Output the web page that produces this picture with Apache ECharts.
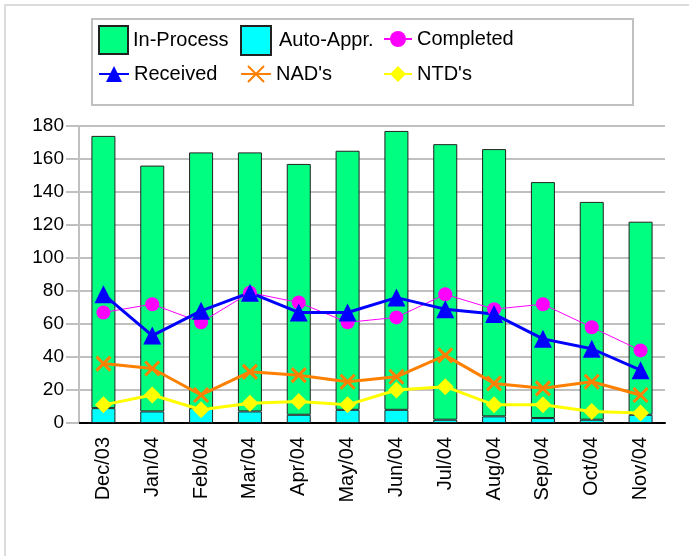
<!DOCTYPE html>
<html>
<head>
<meta charset="utf-8">
<script src="https://cdn.jsdelivr.net/npm/echarts@6/dist/echarts.min.js"></script>
<style>
  html, body { margin: 0; padding: 0; background: #fff; }
  #main { width: 689px; height: 556px; }
</style>
</head>
<body>
<div id="main"></div>
<script>
var months = ['Dec/03', 'Jan/04', 'Feb/04', 'Mar/04', 'Apr/04', 'May/04',
              'Jun/04', 'Jul/04', 'Aug/04', 'Sep/04', 'Oct/04', 'Nov/04'];
var autoAppr  = [9, 7, 9, 7, 5, 8, 8, 2, 4, 3, 2, 5];
var inProcess = [165, 149, 155, 157, 152, 157, 169, 167, 162, 143, 132, 117];
var completed = [67, 72, 61, 79, 73, 61, 64, 78, 69, 72, 58, 44];
var received  = [78, 53, 68, 79, 67, 67, 76, 69, 66, 51, 45, 32];
var nads      = [36, 33, 17, 31, 29, 25, 28, 41, 24, 21, 25, 17];
var ntds      = [11, 17, 8, 12, 13, 11, 20, 22, 11, 11, 7, 6];

var font = 'Liberation Sans, Arial, sans-serif';
var crossPath = 'path://M0,0 L10,10 M10,0 L0,10';

// one legend per item so each can sit where the original puts it
function oneLegend(name, left, top, w, h, icon, extraText) {
    var leg = {
        data: [icon ? { name: name, icon: icon } : name],
        left: left,
        top: top,
        itemWidth: w,
        itemHeight: h,
        itemGap: 0,
        padding: 0,
        selectedMode: false,
        textStyle: Object.assign({ fontFamily: font, fontSize: 20, color: '#000' }, extraText || {})
    };
    return leg;
}

var myChart = echarts.init(document.getElementById('main'));
var option = {
    animation: false,
    backgroundColor: '#fff',
    graphic: [
        {
            type: 'rect',
            shape: { x: 5, y: 5, width: 720, height: 620 },
            style: { fill: 'none', stroke: '#dcdcdc', lineWidth: 2 }
        },
        {
            type: 'rect',
            shape: { x: 92, y: 19, width: 541, height: 86 },
            style: { fill: 'none', stroke: '#c0c0c0', lineWidth: 2 }
        }
    ],
    legend: [
        oneLegend('In-Process', 98, 25, 29, 28, 'rect'),
        oneLegend('Auto-Appr.', 240, 25, 30, 29, 'rect', { padding: [8, 0, 0, 3] }),
        oneLegend('Completed', 383, 29, 28, 20),
        oneLegend('Received', 98, 64, 30, 20),
        oneLegend("NAD's", 240, 64, 30, 20),
        oneLegend("NTD's", 383, 64, 28, 20)
    ],
    grid: {
        left: 79,
        right: 24,
        top: 126,
        bottom: 133
    },
    xAxis: {
        type: 'category',
        data: months,
        boundaryGap: true,
        axisLine: { lineStyle: { color: '#000', width: 2 } },
        axisTick: { length: 14, lineStyle: { color: '#404040', width: 2 } },
        axisLabel: {
            rotate: 90,
            margin: 14,
            fontFamily: font,
            fontSize: 20,
            color: '#000'
        },
        splitLine: { show: false }
    },
    yAxis: {
        type: 'value',
        min: 0,
        max: 180,
        interval: 20,
        axisLine: { show: true, lineStyle: { color: '#c0c0c0', width: 2 } },
        axisTick: { show: true, length: 13, lineStyle: { color: '#c0c0c0', width: 2 } },
        axisLabel: {
            margin: 15,
            fontFamily: font,
            fontSize: 19,
            color: '#000'
        },
        splitLine: { lineStyle: { color: '#c0c0c0', width: 2 } }
    },
    series: [
        {
            name: 'Auto-Appr.',
            type: 'bar',
            stack: 'total',
            barWidth: 24,
            data: autoAppr,
            itemStyle: { color: '#00ffff', borderColor: '#222', borderWidth: 1 }
        },
        {
            name: 'In-Process',
            type: 'bar',
            stack: 'total',
            barWidth: 24,
            data: inProcess,
            itemStyle: { color: '#00ff80', borderColor: '#222', borderWidth: 1 }
        },
        {
            name: 'Completed',
            type: 'line',
            data: completed,
            symbol: 'circle',
            symbolSize: 14,
            lineStyle: { color: '#ff00ff', width: 1 },
            itemStyle: { color: '#ff00ff' }
        },
        {
            name: 'Received',
            type: 'line',
            data: received,
            symbol: 'triangle',
            symbolSize: 18,
            lineStyle: { color: '#0000ff', width: 3 },
            itemStyle: { color: '#0000ff' }
        },
        {
            name: "NAD's",
            type: 'line',
            data: nads,
            symbol: crossPath,
            symbolSize: 14,
            lineStyle: { color: '#ff8000', width: 3 },
            itemStyle: { color: '#ff8000', borderColor: '#ff8000', borderWidth: 3 }
        },
        {
            name: "NTD's",
            type: 'line',
            data: ntds,
            symbol: 'diamond',
            symbolSize: 17,
            lineStyle: { color: '#ffff00', width: 3 },
            itemStyle: { color: '#ffff00' }
        }
    ]
};
myChart.setOption(option);
</script>
</body>
</html>
